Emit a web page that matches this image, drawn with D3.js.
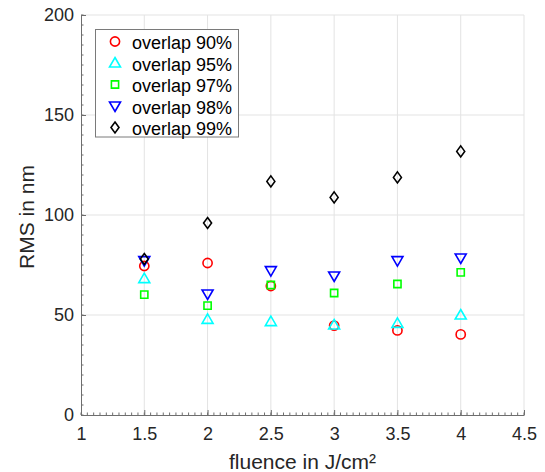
<!DOCTYPE html>
<html><head><meta charset="utf-8">
<script src="https://cdn.jsdelivr.net/npm/d3@7"></script>
<style>html,body{margin:0;padding:0;background:#fff;}svg{display:block;font-family:"Liberation Sans",Arial,sans-serif;}</style>
</head><body><svg id="c" width="545" height="472"></svg>
<script>
const fluence = [1.5, 2, 2.5, 3, 3.5, 4];
const overlap90 = [74.5, 76, 64.5, 44.7, 42.3, 40.3];
const overlap95 = [68.2, 47.8, 46.7, 45, 45.8, 50];
const overlap97 = [60.2, 54.7, 65, 61, 65.5, 71.3];
const overlap98 = [77.2, 60.5, 72.2, 69.5, 77.2, 78.5];
const overlap99 = [78, 96, 116.8, 108.8, 118.8, 131.8];
const seriesNames = ["overlap 90%", "overlap 95%", "overlap 97%", "overlap 98%", "overlap 99%"];
const xTicks = [1, 1.5, 2, 2.5, 3, 3.5, 4, 4.5];
const yTicks = [0, 50, 100, 150, 200];
const xLabel = "fluence in J/cm²";
const yLabel = "RMS in nm";

const series = [
  {name: seriesNames[0], values: overlap90, color: "#ff0000", shape: "circle"},
  {name: seriesNames[1], values: overlap95, color: "#00ffff", shape: "up"},
  {name: seriesNames[2], values: overlap97, color: "#00ff00", shape: "square"},
  {name: seriesNames[3], values: overlap98, color: "#0000ff", shape: "down"},
  {name: seriesNames[4], values: overlap99, color: "#000000", shape: "diamond"}
];

const svg = d3.select("#c");
const L = 81, R = 524, T = 15, B = 415;
const x = d3.scaleLinear().domain([1, 4.5]).range([L, R]);
const y = d3.scaleLinear().domain([0, 200]).range([B, T]);

// grid
const grid = svg.append("g");
grid.selectAll("line.gx").data(xTicks.slice(1)).enter().append("line")
  .attr("x1", d => x(d)).attr("x2", d => x(d)).attr("y1", B).attr("y2", T)
  .attr("stroke", "#e3e3e3").attr("stroke-width", 1);
grid.selectAll("line.gy").data(yTicks.slice(1)).enter().append("line")
  .attr("x1", L).attr("x2", R).attr("y1", d => y(d)).attr("y2", d => y(d))
  .attr("stroke", "#e3e3e3").attr("stroke-width", 1);

// axes
const axisColor = "#6e6e6e";
const xMinor = d3.range(1, 4.5001, 0.05);
const yMinor = d3.range(0, 200.001, 5);
const xAxis = svg.append("g").attr("transform", `translate(0,${B})`)
  .call(d3.axisBottom(x).tickValues(xTicks).tickFormat(d3.format("")).tickSizeInner(-5).tickSizeOuter(0).tickPadding(12));
const yAxis = svg.append("g").attr("transform", `translate(${L},0)`)
  .call(d3.axisLeft(y).tickValues(yTicks).tickSizeInner(-5).tickSizeOuter(0).tickPadding(7));
[xAxis, yAxis].forEach(a => {
  a.select(".domain").attr("stroke", axisColor).attr("stroke-width", 1);
  a.selectAll(".tick line").attr("stroke", axisColor);
  a.selectAll(".tick text").attr("fill", "#262626").attr("font-size", 18).attr("font-family", "Liberation Sans, Arial, sans-serif");
});
xAxis.selectAll(".tick text").attr("dy", "0.71em");
svg.append("g").selectAll("line").data(xMinor).enter().append("line")
  .attr("x1", d => x(d)).attr("x2", d => x(d)).attr("y1", B).attr("y2", B - 2.5)
  .attr("stroke", axisColor).attr("stroke-width", 1);
svg.append("g").selectAll("line").data(yMinor).enter().append("line")
  .attr("x1", L).attr("x2", L + 2.5).attr("y1", d => y(d)).attr("y2", d => y(d))
  .attr("stroke", axisColor).attr("stroke-width", 1);

// labels
svg.append("text").attr("x", (L + R) / 2).attr("y", 469).attr("text-anchor", "middle")
  .attr("font-size", 21).attr("fill", "#262626").text(xLabel);
svg.append("text").attr("transform", `translate(34,${(T + B) / 2 + 2}) rotate(-90)`).attr("text-anchor", "middle")
  .attr("font-size", 21).attr("fill", "#262626").text(yLabel);

// marker paths
function markerPath(shape, cx, cy) {
  switch (shape) {
    case "circle": { const r = 4.6; return `M${cx - r},${cy}a${r},${r} 0 1,0 ${2 * r},0a${r},${r} 0 1,0 ${-2 * r},0Z`; }
    case "up": { const w = 5.5; return `M${cx},${cy - 5.5}L${cx + w},${cy + 4}L${cx - w},${cy + 4}Z`; }
    case "down": { const w = 5.5; return `M${cx},${cy + 5.5}L${cx + w},${cy - 4}L${cx - w},${cy - 4}Z`; }
    case "square": { const s = 3.6; return `M${cx - s},${cy - s}h${2 * s}v${2 * s}h${-2 * s}Z`; }
    case "diamond": { return `M${cx},${cy - 5.5}L${cx + 4},${cy}L${cx},${cy + 5.5}L${cx - 4},${cy}Z`; }
  }
}

// data
series.forEach(s => {
  svg.append("g").selectAll("path").data(s.values).enter().append("path")
    .attr("d", (v, i) => markerPath(s.shape, x(fluence[i]), y(v)))
    .attr("fill", "none").attr("stroke", s.color).attr("stroke-width", 1.6);
});

// legend
const lg = svg.append("g");
lg.append("rect").attr("x", 95.5).attr("y", 29.5).attr("width", 143).attr("height", 107.5)
  .attr("fill", "#fff").attr("stroke", "#7a7a7a").attr("stroke-width", 1);
series.forEach((s, i) => {
  const cy = 43 + i * 21.5;
  lg.append("path").attr("d", markerPath(s.shape, 115, cy - 1.5))
    .attr("fill", "none").attr("stroke", s.color).attr("stroke-width", 1.6);
  lg.append("text").attr("x", 132).attr("y", cy).attr("dy", "0.35em")
    .attr("font-size", 18).attr("fill", "#000").text(s.name);
});
</script></body></html>
